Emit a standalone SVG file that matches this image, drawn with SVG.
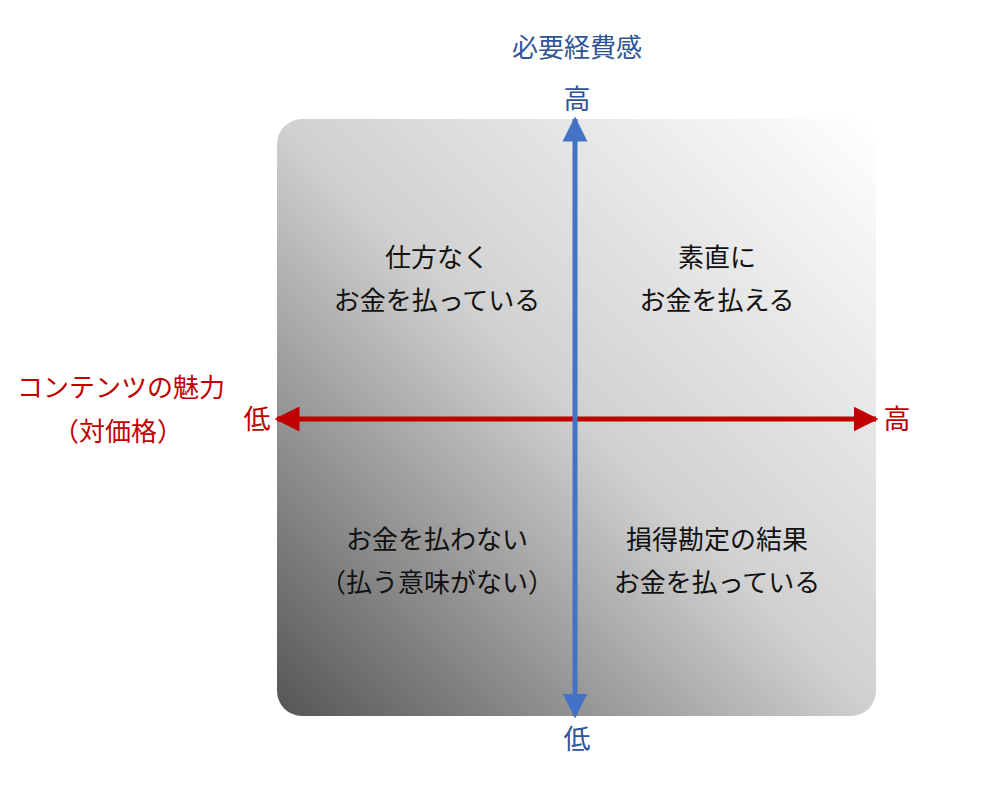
<svg xmlns="http://www.w3.org/2000/svg" width="1000" height="800" viewBox="0 0 1000 800">
<style>
text{font-family:"Noto Sans CJK JP","Noto Sans",sans-serif;text-anchor:middle;dominant-baseline:central}
.q{font-size:26px;fill:#111}
.b{fill:#2F5597}
.r{fill:#C00000}
</style>
<defs>
<linearGradient id="g" x1="0" y1="1" x2="1" y2="0">
<stop offset="0" stop-color="#555555"/>
<stop offset="0.5" stop-color="#d0d0d0"/>
<stop offset="1" stop-color="#ffffff"/>
</linearGradient>
<marker id="ab" viewBox="0 0 10 10" refX="9" refY="5" markerWidth="5" markerHeight="5" orient="auto-start-reverse" markerUnits="strokeWidth"><path d="M0,0L10,5L0,10z" fill="#4472C4"/></marker>
<marker id="ar" viewBox="0 0 10 10" refX="9" refY="5" markerWidth="5" markerHeight="5" orient="auto-start-reverse" markerUnits="strokeWidth"><path d="M0,0L10,5L0,10z" fill="#C00000"/></marker>
</defs>
<g id="background"><rect x="277" y="119" width="599" height="597" rx="25" fill="url(#g)"/></g>
<g id="connectors">
<line x1="277" y1="419" x2="876" y2="419" stroke="#C00000" stroke-width="5" marker-start="url(#ar)" marker-end="url(#ar)"/>
<line x1="575" y1="119" x2="575" y2="716" stroke="#4472C4" stroke-width="5" marker-start="url(#ab)" marker-end="url(#ab)"/>
</g>
<g id="q1"><text class="q" x="437" y="255">仕方なく</text><text class="q" x="437" y="298">お金を払っている</text></g>
<g id="q2"><text class="q" x="717" y="255">素直に</text><text class="q" x="717" y="298">お金を払える</text></g>
<g id="q3"><text class="q" x="437" y="537">お金を払わない</text><text class="q" x="437" y="580">（払う意味がない）</text></g>
<g id="q4"><text class="q" x="717" y="537">損得勘定の結果</text><text class="q" x="717" y="580">お金を払っている</text></g>
<g id="yaxis"><text class="b" x="577" y="45" font-size="26">必要経費感</text><text class="b" x="577" y="97" font-size="27">高</text><text class="b" x="577" y="737" font-size="27">低</text></g>
<g id="xaxis"><text class="r" x="121" y="385" font-size="26">コンテンツの魅力</text><text class="r" x="118" y="429" font-size="26">（対価格）</text><text class="r" x="257" y="417" font-size="27">低</text><text class="r" x="897" y="417" font-size="27">高</text></g>
</svg>
